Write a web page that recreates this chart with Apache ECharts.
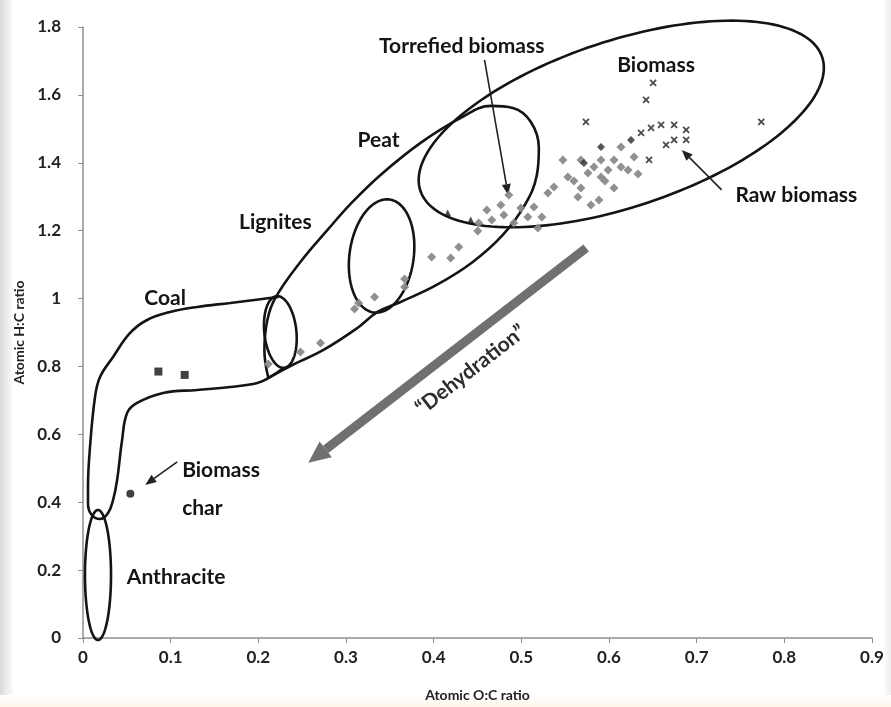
<!DOCTYPE html>
<html>
<head>
<meta charset="utf-8">
<script src="https://cdn.jsdelivr.net/npm/echarts@6/dist/echarts.min.js"></script>
<style>
html, body { margin: 0; padding: 0; background: #fff; }
#chart { width: 891px; height: 707px; }
</style>
</head>
<body>
<div id="chart"></div>
<script>
// Van Krevelen diagram: atomic H:C ratio against atomic O:C ratio

// Coal samples
const coalPoints = [[0.086, 0.785], [0.116, 0.775]];
// Biomass char
const charPoints = [[0.054, 0.425]];
// Torrefied / treated biomass samples (grey diamonds)
const torrefiedPoints = [
  [0.2114, 0.8073], [0.248, 0.8427], [0.2709, 0.8692], [0.3097, 0.9694], [0.3143, 0.987],
  [0.3326, 1.0047], [0.3669, 1.0342], [0.3669, 1.0577], [0.3977, 1.1226], [0.4194, 1.1196],
  [0.4286, 1.152], [0.4514, 1.2228], [0.4503, 1.1992], [0.4606, 1.2611], [0.4663, 1.2316],
  [0.4766, 1.2758], [0.48, 1.2463], [0.4857, 1.3052], [0.4914, 1.2228], [0.4994, 1.2669],
  [0.5074, 1.2404], [0.5143, 1.2699], [0.5189, 1.208], [0.5234, 1.2404], [0.5303, 1.3111],
  [0.5371, 1.3288], [0.5474, 1.4084], [0.5531, 1.3583], [0.56, 1.3465], [0.568, 1.4084],
  [0.568, 1.3259], [0.5646, 1.2994], [0.576, 1.3701], [0.5794, 1.2758], [0.5829, 1.3877],
  [0.5886, 1.2905], [0.5909, 1.4084], [0.5909, 1.3583], [0.5954, 1.3465], [0.5989, 1.3789],
  [0.6057, 1.4084], [0.6057, 1.3259], [0.6137, 1.4467], [0.6137, 1.3877], [0.6217, 1.3789],
  [0.6286, 1.4172], [0.6331, 1.3671]
];
// Darker samples inside the torrefied cloud
const darkTriangles = [[0.416, 1.2522], [0.4423, 1.2316]];
const darkDots = [[0.5909, 1.4467], [0.5714, 1.3995], [0.6251, 1.4673]];
// Raw biomass samples (x markers)
const rawPoints = [
  [0.5737, 1.5203], [0.6503, 1.6352], [0.6423, 1.5852], [0.6594, 1.5115], [0.6743, 1.5115],
  [0.688, 1.4968], [0.688, 1.4673], [0.6743, 1.4673], [0.6651, 1.4526], [0.6457, 1.4084],
  [0.7737, 1.5203], [0.6366, 1.4879], [0.648, 1.5027]
];
const hollowPoints = [[0.6309, 1.5203], [0.6389, 1.5027], [0.6251, 1.4879], [0.6366, 1.4644], [0.6423, 1.5351]];

// Fuel regions drawn as ellipses: [O:C centre, H:C centre, O:C half-width, H:C half-height, tilt in degrees]
const regionEllipses = [
  [0.614, 1.5144, 0.2415, 0.2446, 18.4],   // Biomass
  [0.3406, 1.1255, 0.0366, 0.168, -8],     // Lignites
  [0.2251, 0.9016, 0.0183, 0.1061, 6],     // coal end
  [0.0171, 0.1856, 0.01486, 0.1915, 0]     // Anthracite
];
// Peat region outline
const peatOutline = [
  [0.2114, 0.7661], [0.2069, 0.8486], [0.2103, 0.9369], [0.2194, 1.0018], [0.248, 1.1078],
  [0.2789, 1.2021], [0.3074, 1.2846], [0.3394, 1.3642], [0.3851, 1.4585], [0.4309, 1.5321],
  [0.4651, 1.5675], [0.4903, 1.5616], [0.5109, 1.5203], [0.52, 1.4437], [0.5177, 1.3642],
  [0.504, 1.2758], [0.4789, 1.1874], [0.4446, 1.1078], [0.4034, 1.0401], [0.3623, 0.99],
  [0.336, 0.9605], [0.3131, 0.9134], [0.2743, 0.8486], [0.2366, 0.8014], [0.2114, 0.7661]
];
// Coal region outline
const coalOutline = [
  [0.2286, 0.7955], [0.2137, 0.769], [0.1989, 0.7513], [0.168, 0.7395], [0.1303, 0.7307],
  [0.0914, 0.7219], [0.0617, 0.6924], [0.0503, 0.6629], [0.0446, 0.5834], [0.0389, 0.4655],
  [0.0343, 0.4066], [0.0286, 0.3683], [0.0194, 0.3506], [0.0091, 0.3654], [0.0057, 0.3978],
  [0.0057, 0.4449], [0.008, 0.5628], [0.0137, 0.7101], [0.0194, 0.769], [0.0343, 0.8279],
  [0.0537, 0.8987], [0.0731, 0.9369], [0.0994, 0.9605], [0.1303, 0.9753], [0.168, 0.987],
  [0.2046, 0.9988], [0.2229, 1.0047]
];

// Annotation arrows: [from O:C, from H:C, to O:C, to H:C]
const pointerArrows = [
  [0.458, 1.703, 0.485, 1.305],     // Torrefied biomass
  [0.7285, 1.32, 0.683, 1.438],     // Raw biomass
  [0.1075, 0.519, 0.071, 0.451]     // Biomass char
];
const dehydrationArrow = [[0.574, 1.149, 0.257, 0.516]];

// Region and sample labels: [O:C, H:C, text index]; the two char lines start at a shared left edge
const labelTexts = ['Torrefied biomass', 'Biomass', 'Peat', 'Lignites', 'Coal', 'Raw biomass', 'Anthracite'];
const labelPositions = [
  [0.432, 1.744, 0], [0.6537, 1.688, 1], [0.3371, 1.467, 2], [0.2194, 1.2257, 3], [0.0937, 1.0018, 4],
  [0.8137, 1.3052, 5], [0.1063, 0.1797, 6]
];
const charLabelTexts = ['Biomass', 'char'];
const charLabelPositions = [[0.1131, 0.495, 0], [0.1131, 0.383, 1]];
const dehydrationText = '\u201cDehydration\u201d';
const dehydrationPosition = [[0.4423, 0.7896]];

const xTickValues = [0, 0.1, 0.2, 0.3, 0.4, 0.5, 0.6, 0.7, 0.8, 0.9];
const yTickValues = [0, 0.2, 0.4, 0.6, 0.8, 1, 1.2, 1.4, 1.6, 1.8];

const INK = '#141414';
const LABEL_FONT = 'bold 21px Lato, "Open Sans", sans-serif';

function renderEllipse(params, api) {
  const c = api.coord([api.value(0), api.value(1)]);
  const s = api.size([api.value(2), api.value(3)]);
  const th = api.value(4) * Math.PI / 180;
  const pts = [];
  const n = 160;
  for (let i = 0; i < n; i++) {
    const t = i / n * Math.PI * 2;
    const lx = s[0] * Math.cos(t), ly = s[1] * Math.sin(t);
    pts.push([c[0] + lx * Math.cos(th) + ly * Math.sin(th), c[1] - lx * Math.sin(th) + ly * Math.cos(th)]);
  }
  return { type: 'polygon', shape: { points: pts }, style: { fill: 'none', stroke: INK, lineWidth: 2.6 } };
}

function arrowRenderer(width, headLen, headHalf, color) {
  return function (params, api) {
    const p1 = api.coord([api.value(0), api.value(1)]);
    const p2 = api.coord([api.value(2), api.value(3)]);
    const ang = Math.atan2(p2[1] - p1[1], p2[0] - p1[0]);
    const base = [p2[0] - headLen * Math.cos(ang), p2[1] - headLen * Math.sin(ang)];
    const left = [base[0] + headHalf * Math.sin(ang), base[1] - headHalf * Math.cos(ang)];
    const right = [base[0] - headHalf * Math.sin(ang), base[1] + headHalf * Math.cos(ang)];
    return {
      type: 'group',
      children: [
        { type: 'line', shape: { x1: p1[0], y1: p1[1], x2: base[0], y2: base[1] }, style: { stroke: color, lineWidth: width } },
        { type: 'polygon', shape: { points: [p2, left, right] }, style: { fill: color } }
      ]
    };
  };
}

function textRenderer(texts, align) {
  return function (params, api) {
    const c = api.coord([api.value(0), api.value(1)]);
    return { type: 'text', x: c[0], y: c[1],
      style: { text: texts[api.value(2)], font: LABEL_FONT, fill: INK, align: align, verticalAlign: 'middle' } };
  };
}

const chart = echarts.init(document.getElementById('chart'), null, { renderer: 'canvas' });

chart.setOption({
  backgroundColor: '#ffffff',
  animation: false,
  graphic: [
    { type: 'rect', left: 0, top: 0, shape: { width: 14, height: 707 }, z: -10, silent: true,
      style: { fill: new echarts.graphic.LinearGradient(0, 0, 1, 0, [{ offset: 0, color: '#d9d9d9' }, { offset: 1, color: '#ffffff' }]) } },
    { type: 'rect', right: 0, top: 0, shape: { width: 8, height: 707 }, z: -10, silent: true,
      style: { fill: new echarts.graphic.LinearGradient(0, 0, 1, 0, [{ offset: 0, color: '#ffffff' }, { offset: 1, color: '#ececec' }]) } },
    { type: 'rect', left: 0, bottom: 0, shape: { width: 891, height: 12 }, z: -10, silent: true,
      style: { fill: new echarts.graphic.LinearGradient(0, 0, 0, 1, [{ offset: 0, color: '#ffffff' }, { offset: 1, color: '#fcf6ec' }]) } }
  ],
  grid: { left: 83, right: 19, top: 27, bottom: 69, containLabel: false },
  xAxis: {
    type: 'value', min: 0, max: 0.9, interval: 0.1,
    name: 'Atomic O:C ratio', nameLocation: 'middle', nameGap: 50,
    nameTextStyle: { fontFamily: 'Lato, sans-serif', fontWeight: 'bold', fontSize: 14, color: '#222' },
    axisLine: { show: true, onZero: false, lineStyle: { color: '#8f8f8f', width: 1.5 } },
    axisTick: { show: true, length: 5, lineStyle: { color: '#8f8f8f' } },
    axisLabel: { fontFamily: 'Lato, sans-serif', fontWeight: 'bold', fontSize: 17, color: '#222', margin: 11,
      customValues: xTickValues },
    splitLine: { show: false }
  },
  yAxis: {
    type: 'value', min: 0, max: 1.8, interval: 0.2,
    name: 'Atomic H:C ratio', nameLocation: 'middle', nameGap: 57, nameRotate: 90,
    nameTextStyle: { fontFamily: 'Lato, sans-serif', fontWeight: 'bold', fontSize: 14, color: '#222' },
    axisLine: { show: true, onZero: false, lineStyle: { color: '#8f8f8f', width: 1.5 } },
    axisTick: { show: true, length: 5, lineStyle: { color: '#8f8f8f' } },
    axisLabel: { fontFamily: 'Lato, sans-serif', fontWeight: 'bold', fontSize: 17, color: '#222', margin: 22,
      customValues: yTickValues },
    splitLine: { show: false }
  },
  series: [
    { name: 'Fuel regions', type: 'custom', renderItem: renderEllipse, data: regionEllipses, z: 2, silent: true },
    { name: 'Peat', type: 'line', data: peatOutline, smooth: 0.4, symbol: 'none',
      lineStyle: { color: INK, width: 2.6 }, z: 2, silent: true },
    { name: 'Coal', type: 'line', data: coalOutline, smooth: 0.4, symbol: 'none',
      lineStyle: { color: INK, width: 2.6 }, z: 2, silent: true },
    { name: 'Dehydration', type: 'custom', renderItem: arrowRenderer(9, 22, 10, '#707070'), data: dehydrationArrow, z: 3, silent: true },
    { name: 'Pointers', type: 'custom', renderItem: arrowRenderer(1.6, 11, 4.5, '#222'), data: pointerArrows, z: 3, silent: true },
    { name: 'Torrefied biomass', type: 'scatter', data: torrefiedPoints, symbol: 'diamond', symbolSize: 9,
      itemStyle: { color: '#8a8a8a', opacity: 0.95 }, z: 4 },
    { name: 'Raw biomass', type: 'scatter', data: rawPoints, symbol: 'path://M0,0L10,10M10,0L0,10', symbolSize: 6,
      itemStyle: { color: 'none', borderColor: '#1e1e1e', borderWidth: 1.8 }, z: 5 },
    { name: 'Raw biomass (open)', type: 'scatter', data: hollowPoints, symbol: 'emptyCircle', symbolSize: 9,
      itemStyle: { color: '#fff', borderColor: '#7a7a7a', borderWidth: 1.6 }, z: 4 },
    { name: 'Dark samples', type: 'scatter', data: darkDots, symbol: 'diamond', symbolSize: 8,
      itemStyle: { color: '#2a2a2a' }, z: 5 },
    { name: 'Triangles', type: 'scatter', data: darkTriangles, symbol: 'triangle', symbolSize: 7,
      itemStyle: { color: '#1a1a1a' }, z: 5 },
    { name: 'Coal samples', type: 'scatter', data: coalPoints, symbol: 'rect', symbolSize: 8,
      itemStyle: { color: '#111' }, z: 5 },
    { name: 'Biomass char', type: 'scatter', data: charPoints, symbol: 'circle', symbolSize: 8,
      itemStyle: { color: '#111' }, z: 5 },
    { name: 'Labels', type: 'custom', silent: true, z: 6, data: labelPositions, renderItem: textRenderer(labelTexts, 'center') },
    { name: 'Char labels', type: 'custom', silent: true, z: 6, data: charLabelPositions, renderItem: textRenderer(charLabelTexts, 'left') },
    { name: 'Dehydration label', type: 'custom', silent: true, z: 6, data: dehydrationPosition,
      renderItem: function (params, api) {
        const c = api.coord([api.value(0), api.value(1)]);
        return { type: 'text', x: c[0], y: c[1], rotation: 37.8 * Math.PI / 180,
          style: { text: dehydrationText, font: 'bold 21px Lato, "Open Sans", sans-serif', fill: '#2e2e2e', align: 'center', verticalAlign: 'middle' } };
      } }
  ]
});
</script>
</body>
</html>
